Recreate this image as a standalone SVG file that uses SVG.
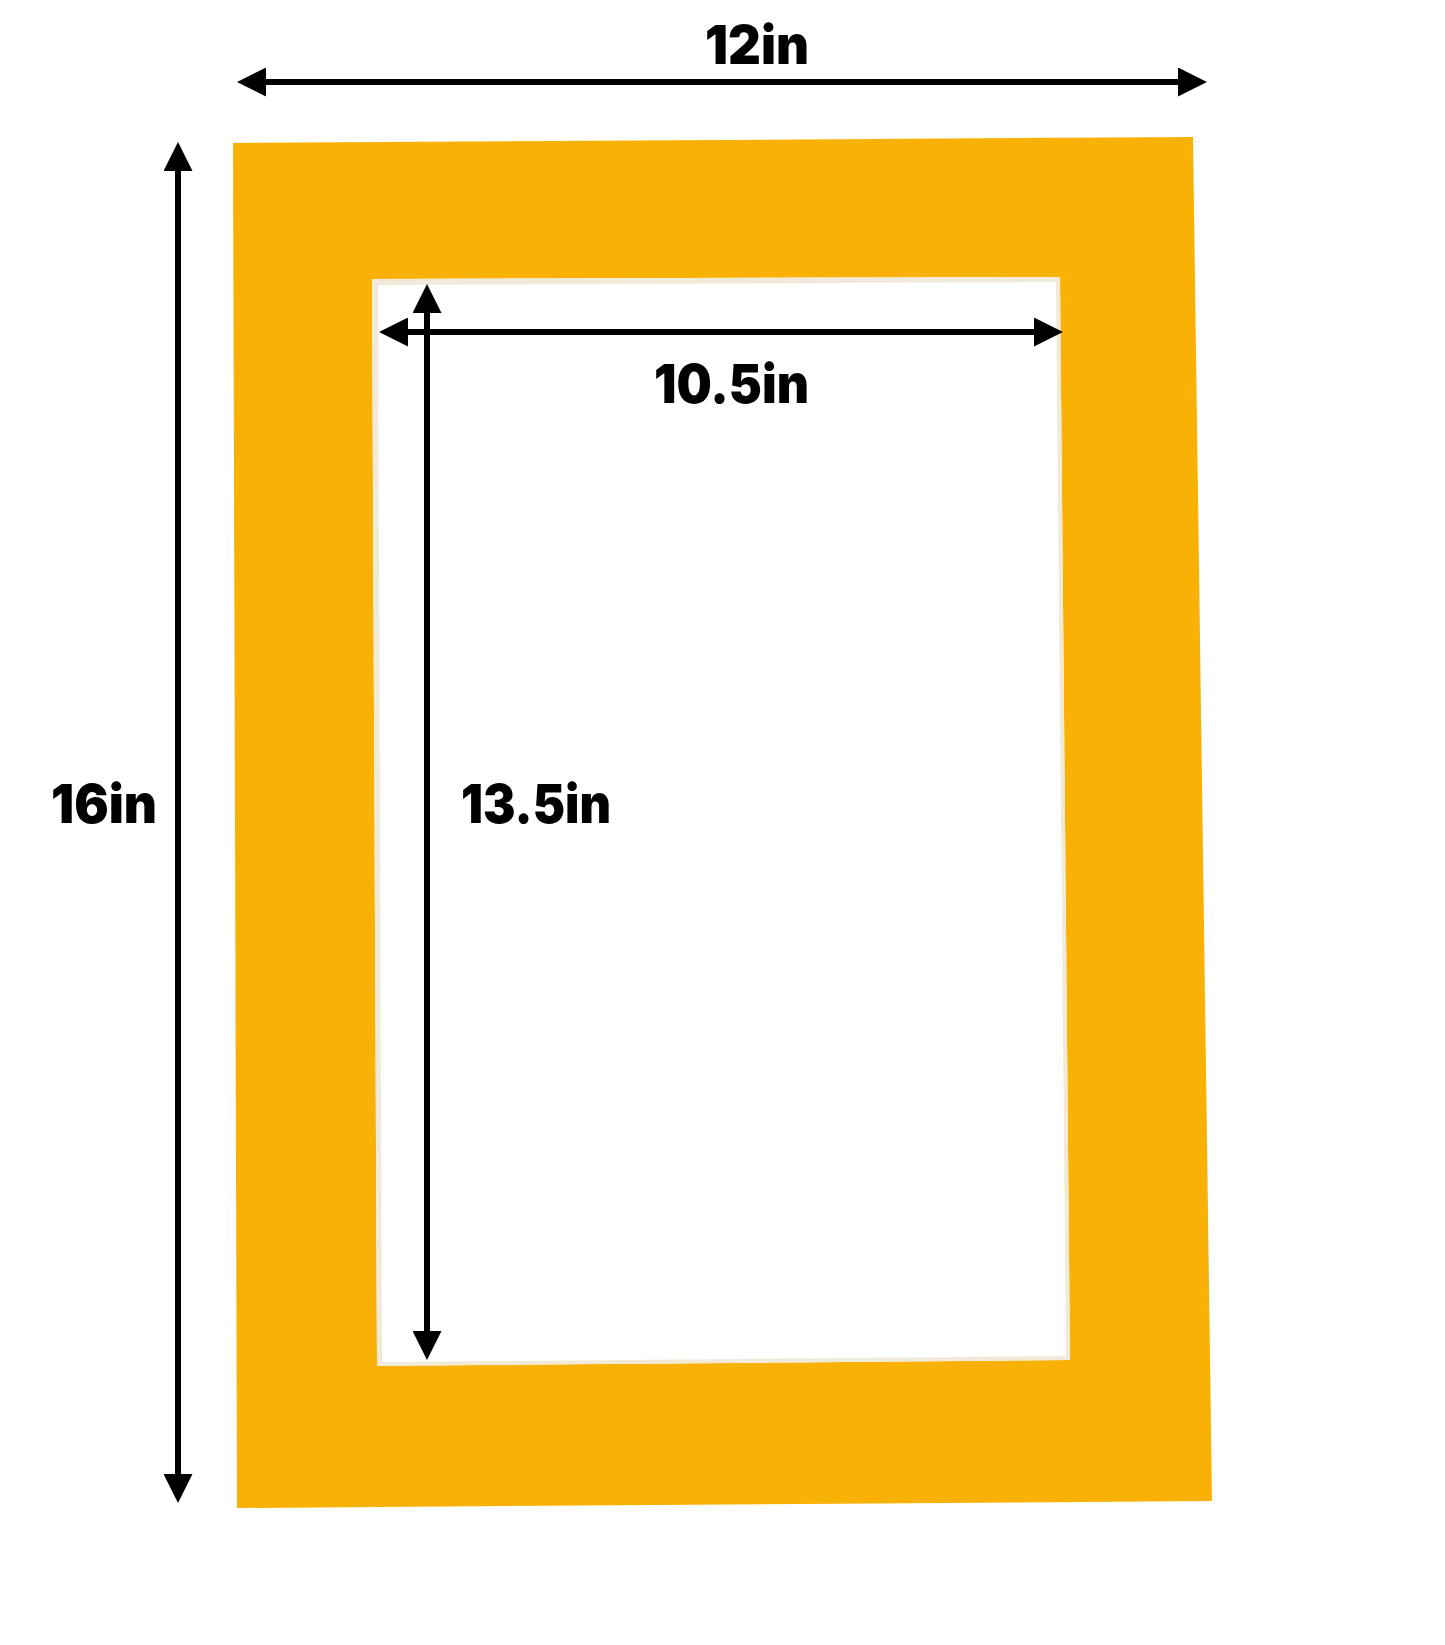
<svg xmlns="http://www.w3.org/2000/svg" width="1445" height="1645" viewBox="0 0 1445 1645">
  <style>
    .dim { stroke: #000; stroke-width: 6; fill: none; marker-start: url(#ah); marker-end: url(#ah); }
    .lbl { font-family: Inter, "Noto Sans", "Liberation Sans", sans-serif; font-weight: 900; font-size: 54px; fill: #000; }
  </style>
  <defs>
    <marker id="ah" markerUnits="userSpaceOnUse" viewBox="0 0 29 29" markerWidth="29" markerHeight="29" refX="2" refY="14.5" orient="auto-start-reverse">
      <path d="M0,0 L29,14.5 L0,29 Z" fill="#000"/>
    </marker>
  </defs>
  <rect width="1445" height="1645" fill="#fff"/>
  <g id="mat">
    <path fill="#F8B104" fill-rule="evenodd" d="M233,143 L1193,137 L1212,1501 L237,1508 Z M372,279 L1060,277 L1070,1360 L377,1366 Z"/>
    <path fill="#F1EAD8" fill-rule="evenodd" d="M372,279 L1060,277 L1070,1360 L377,1366 Z M378,285 L1056,282 L1066,1356 L382,1362 Z"/>
  </g>
  <g id="connectors">
    <line class="dim" x1="264" y1="82" x2="1180" y2="82"/>
    <line class="dim" x1="178" y1="169" x2="178" y2="1476"/>
    <line class="dim" x1="406" y1="332" x2="1036" y2="332"/>
    <line class="dim" x1="427" y1="311" x2="427" y2="1333"/>
  </g>
  <g id="labels">
    <text class="lbl" x="705" y="64" textLength="104" lengthAdjust="spacingAndGlyphs">12in</text>
    <text class="lbl" x="654" y="403" textLength="155" lengthAdjust="spacingAndGlyphs">10.5in</text>
    <text class="lbl" x="51" y="823" textLength="106" lengthAdjust="spacingAndGlyphs">16in</text>
    <text class="lbl" x="461" y="823" textLength="150" lengthAdjust="spacingAndGlyphs">13.5in</text>
  </g>
</svg>
